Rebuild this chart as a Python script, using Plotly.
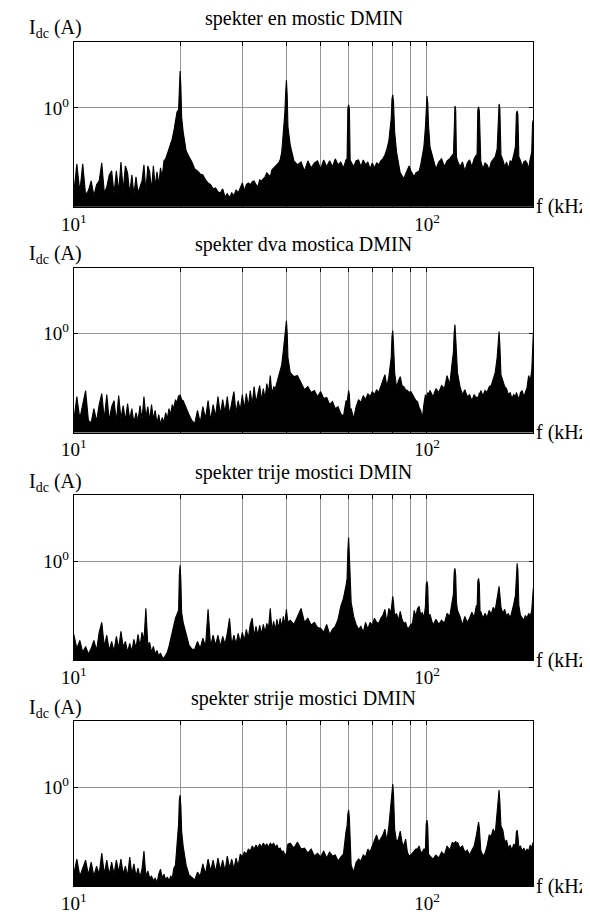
import plotly.graph_objects as go

# Frequency grid (kHz) shared by all four spectra (denser around the harmonics)
FREQ_KHZ = [
    10.0, 10.2, 10.4, 10.6, 10.8, 11.0, 11.2, 11.4, 11.6, 11.8,
    12.0, 12.2, 12.4, 12.6, 12.8, 13.0, 13.2, 13.4, 13.6, 13.8,
    14.0, 14.2, 14.4, 14.6, 14.8, 15.0, 15.2, 15.4, 15.6, 15.8,
    16.0, 16.2, 16.4, 16.6, 16.8, 17.0, 17.2, 17.4, 17.6, 17.8,
    18.0, 18.2, 18.4, 18.6, 18.8, 19.0, 19.2, 19.4, 19.6, 19.8, 19.9,
    20.0, 20.1, 20.2, 20.4, 20.8, 21.2, 21.6, 22.0, 22.4, 22.8, 23.2, 23.6,
    24.0, 24.4, 24.8, 25.2, 25.6, 26.0, 26.4, 26.8, 27.2, 27.6,
    28.0, 28.4, 28.8, 29.2, 29.6, 30.0, 30.4, 30.8, 31.2, 31.6,
    32.0, 32.4, 32.8, 33.2, 33.6, 34.0, 34.4, 34.8, 35.2, 35.6,
    36.0, 36.4, 36.8, 37.2, 37.6, 38.0, 38.4, 38.8, 39.2, 39.6, 39.8,
    40, 40.2, 40.4, 41, 42, 43, 44, 45, 46, 47, 48, 49,
    50, 51, 52, 53, 54, 55, 56, 57, 58, 59, 59.4, 59.7,
    60, 60.3, 60.6, 61, 62, 63, 64, 65, 66, 67, 68, 69,
    70, 71, 72, 73, 74, 75, 76, 77, 78, 79, 79.2, 79.6,
    80, 80.4, 80.8, 81, 82, 83, 84, 85, 86, 87, 88, 89,
    90, 91, 92, 93, 94, 95, 96, 97, 98, 99, 99.5,
    100, 100.5, 101, 102, 104, 106, 108, 110, 112, 114, 116, 118, 118.8, 119.4,
    120, 120.6, 121.2, 122, 124, 126, 128, 130, 132, 134, 136, 138, 138.6, 139.3,
    140, 140.7, 141.4, 142, 144, 146, 148, 150, 152, 154, 156, 158, 159.2,
    160, 160.8, 162, 164, 166, 168, 170, 172, 174, 176, 178, 179.1,
    180, 180.9, 182, 184, 186, 188, 190, 192, 194, 196, 198, 199, 200,
]

# I_dc amplitude (A) of each spectrum, row by row as the grid above
IDC_EN = [
    .093, .209, .096, .209, .088, .099, .130, .086, .117, .130,
    .215, .093, .110, .154, .172, .091, .172, .096, .221, .099,
    .198, .163, .091, .154, .088, .146, .093, .110, .130, .204,
    .096, .198, .168, .101, .198, .110, .168, .117, .187, .146,
    .228, .241, .277, .318, .356, .421, .526, .696, .895, .946, 2.07,
    2.81, 1.80, .778, .512, .301, .255, .221, .182, .172, .158, .154, .134,
    .123, .117, .104, .107, .096, .093, .104, .083, .091, .081,
    .093, .086, .101, .093, .110, .123, .099, .117, .123, .117,
    .127, .130, .117, .110, .134, .130, .138, .146, .163, .154,
    .146, .177, .187, .193, .204, .215, .234, .293, .512, .895, 1.56,
    2.185, 1.437, .589, .356, .228, .204, .221, .172, .228, .187, .215, .228,
    .182, .234, .193, .228, .193, .241, .204, .221, .187, .234, .241, .972,
    1.087, .972, .234, .221, .193, .228, .234, .193, .234, .204, .221, .182,
    .215, .187, .215, .204, .228, .241, .269, .318, .398, .677, .736, 1.285,
    1.437, 1.18, .589, .512, .293, .204, .163, .150, .138, .158, .177, .198,
    .172, .158, .146, .163, .168, .172, .204, .255, .337, .589, 1.18,
    1.398, 1.15, .622, .337, .255, .182, .221, .241, .193, .228, .241, .269, .255, .972,
    1.057, .946, .255, .228, .193, .221, .172, .215, .234, .193, .241, .269, .255, .946,
    1.028, .920, .241, .228, .182, .215, .204, .177, .221, .234, .255, .318, 1.028,
    1.118, 1.0, .269, .234, .193, .221, .182, .228, .221, .269, .337, .846,
    .920, .823, .255, .228, .193, .221, .228, .215, .182, .241, .293, .658, .716,
]

IDC_DVA = [
    .088, .172, .093, .146, .204, .088, .083, .123, .086, .138,
    .187, .091, .182, .088, .130, .154, .086, .177, .093, .134,
    .088, .142, .091, .123, .083, .110, .088, .134, .091, .172,
    .096, .130, .088, .138, .091, .117, .081, .104, .079, .096,
    .083, .110, .093, .123, .104, .138, .123, .158, .146, .177, .172,
    .182, .163, .158, .154, .123, .104, .088, .081, .117, .083, .130, .093,
    .154, .088, .138, .099, .172, .104, .158, .110, .172, .104,
    .146, .198, .110, .154, .117, .182, .123, .187, .130, .204,
    .138, .228, .146, .193, .234, .154, .215, .163, .248, .193,
    .310, .182, .228, .215, .255, .301, .356, .421, .622, .895, 1.18,
    1.437, 1.028, .512, .337, .301, .310, .248, .209, .228, .193, .204, .172,
    .198, .163, .168, .138, .150, .123, .130, .107, .099, .154, .146, .193,
    .204, .182, .117, .123, .093, .130, .158, .146, .177, .158, .187, .172,
    .198, .182, .209, .193, .234, .269, .318, .228, .301, .471, .512, .920,
    1.087, .736, .387, .337, .221, .269, .301, .234, .228, .209, .204, .193,
    .198, .182, .168, .154, .150, .127, .117, .093, .138, .182, .172,
    .172, .193, .182, .204, .172, .215, .193, .234, .215, .310, .241, .471, .589, 1.028,
    1.285, .895, .471, .337, .228, .182, .209, .172, .182, .154, .182, .163, .172, .158,
    .172, .193, .168, .204, .177, .204, .193, .228, .234, .293, .337, .512, .823,
    1.057, .736, .318, .269, .228, .215, .182, .193, .163, .182, .172, .193,
    .182, .168, .158, .193, .204, .172, .198, .221, .310, .269, .356, .589, 1.0,
]

IDC_TRIJE = [
    .130, .088, .110, .079, .093, .075, .088, .110, .083, .138,
    .182, .093, .127, .083, .107, .081, .123, .088, .142, .091,
    .107, .079, .101, .081, .113, .088, .130, .093, .138, .110,
    .269, .099, .104, .079, .093, .075, .083, .071, .077, .069,
    .067, .073, .079, .093, .117, .138, .168, .204, .228, .255, .677,
    .895, .589, .241, .182, .134, .096, .086, .086, .107, .088, .117, .093,
    .262, .093, .127, .096, .127, .093, .123, .099, .134, .204,
    .096, .127, .099, .134, .104, .138, .110, .150, .117, .172,
    .204, .123, .163, .127, .168, .130, .172, .138, .177, .154,
    .269, .146, .187, .146, .198, .154, .204, .158, .215, .163, .221,
    .262, .215, .182, .193, .172, .215, .269, .182, .204, .168, .182, .158,
    .154, .138, .172, .130, .150, .163, .198, .285, .356, .512, .622, 1.36,
    1.954, 1.18, .512, .318, .215, .172, .150, .163, .138, .182, .150, .182,
    .168, .204, .182, .177, .204, .221, .262, .182, .269, .241, .255, .337,
    .376, .318, .221, .215, .234, .193, .248, .198, .177, .182, .154, .158,
    .172, .177, .255, .215, .269, .285, .221, .241, .204, .285, .526,
    .572, .498, .215, .228, .168, .198, .172, .193, .177, .234, .215, .337, .398, .736,
    .823, .677, .318, .255, .215, .168, .215, .182, .204, .241, .209, .293, .255, .572,
    .622, .526, .228, .248, .204, .234, .209, .255, .228, .277, .255, .356, .471,
    .498, .398, .277, .234, .262, .215, .234, .204, .241, .301, .387, .870,
    .946, .778, .293, .221, .209, .193, .221, .204, .234, .215, .255, .421, .471,
]

IDC_STRIJE = [
    .088, .134, .083, .104, .130, .086, .123, .083, .110, .088,
    .158, .088, .130, .086, .123, .088, .130, .093, .134, .088,
    .110, .083, .142, .088, .117, .083, .104, .081, .101, .168,
    .083, .096, .079, .083, .073, .079, .069, .088, .101, .079,
    .088, .075, .081, .073, .083, .079, .104, .113, .221, .356, .696,
    .800, .589, .293, .193, .113, .086, .081, .075, .093, .083, .117, .088,
    .134, .096, .130, .093, .138, .099, .130, .096, .146, .104,
    .134, .101, .138, .110, .154, .142, .163, .154, .177, .168,
    .193, .177, .198, .182, .204, .187, .209, .193, .204, .187,
    .209, .198, .209, .187, .198, .177, .182, .163, .168, .150, .154,
    .146, .182, .204, .209, .182, .215, .177, .182, .158, .177, .146, .158,
    .142, .168, .138, .163, .146, .150, .127, .142, .154, .293, .337, .471,
    .526, .421, .168, .113, .093, .123, .134, .127, .150, .142, .177, .163,
    .193, .221, .262, .215, .234, .262, .310, .221, .337, .622, .696, .972,
    1.087, .823, .398, .310, .215, .234, .293, .215, .193, .234, .163, .146,
    .150, .158, .168, .177, .177, .193, .163, .163, .177, .177, .356,
    .398, .337, .154, .146, .134, .150, .138, .163, .150, .193, .172, .215, .193, .215,
    .193, .221, .198, .215, .182, .193, .163, .172, .150, .172, .193, .262, .293, .356,
    .376, .318, .193, .172, .146, .158, .193, .262, .255, .310, .269, .557, .823,
    .920, .677, .337, .301, .215, .228, .182, .198, .172, .204, .193, .285,
    .301, .255, .187, .193, .168, .182, .163, .177, .168, .198, .182, .204, .215,
]

TITLES = [
    "spekter en mostic DMIN",
    "spekter dva mostica DMIN",
    "spekter trije mostici DMIN",
    "spekter strije mostici DMIN",
]
SERIES = [IDC_EN, IDC_DVA, IDC_TRIJE, IDC_STRIJE]

X_GRID = [10, 20, 30, 40, 50, 60, 70, 80, 90, 100, 200]
X_TICKTEXT = ["10<sup>1</sup>", "", "", "", "", "", "", "", "", "10<sup>2</sup>", ""]
Y_TICKS = [1]
Y_TICKTEXT = ["10<sup>0</sup>"]

for s in SERIES:
    assert len(s) == len(FREQ_KHZ), len(s)

# the page body has an 8 px margin, so the figure is laid out 8 px smaller
OFF = 8
W, H = 590 - OFF, 914 - OFF
LEFT, RIGHT = 62 - OFF, 532 - OFF
TOPS = [42 - OFF, 268 - OFF, 496 - OFF, 722 - OFF]
PH = 165
FONT = "Liberation Serif, Times New Roman, serif"

fig = go.Figure()
annotations = []
for i, (title, ys) in enumerate(zip(TITLES, SERIES)):
    n = "" if i == 0 else str(i + 1)
    top = TOPS[i]
    bot = top + PH
    fig.add_trace(go.Scatter(
        x=FREQ_KHZ, y=ys, mode="lines",
        line=dict(color="black", width=1.1),
        fill="tozeroy", fillcolor="black",
        xaxis="x" + n, yaxis="y" + n, showlegend=False,
        hoverinfo="skip",
    ))
    xa = dict(
        type="log", range=[1, 2.30103], domain=[LEFT / W, RIGHT / W],
        anchor="y" + n,
        tickvals=X_GRID, ticktext=X_TICKTEXT,
        showgrid=True, gridcolor="#959595", gridwidth=1,
        ticks="inside", ticklen=4, tickcolor="black",
        showline=True, linecolor="black", linewidth=1, mirror="ticks",
        tickfont=dict(family=FONT, size=19, color="black"),
        zeroline=False,
    )
    ya = dict(
        type="log", range=[-1.2, 0.8],
        domain=[1 - bot / H, 1 - top / H],
        anchor="x" + n,
        tickvals=Y_TICKS, ticktext=Y_TICKTEXT,
        showgrid=True, gridcolor="#959595", gridwidth=1,
        ticks="inside", ticklen=4, tickcolor="black",
        showline=True, linecolor="black", linewidth=1, mirror="ticks",
        tickfont=dict(family=FONT, size=19, color="black"),
        zeroline=False,
    )
    fig.update_layout({"xaxis" + n: xa, "yaxis" + n: ya})
    annotations.append(dict(
        text=title, xref="paper", yref="paper",
        x=(297 - OFF) / W, y=1 - (top - 23) / H, xanchor="center", yanchor="middle",
        showarrow=False, font=dict(family=FONT, size=20, color="black"),
    ))
    annotations.append(dict(
        text="I<sub>dc</sub> (A)", xref="paper", yref="paper",
        x=(14 - OFF) / W, y=1 - (top - 13) / H, xanchor="left", yanchor="middle",
        showarrow=False, font=dict(family=FONT, size=20, color="black"),
    ))
    annotations.append(dict(
        text="f (kHz)", xref="paper", yref="paper",
        x=(533 - OFF) / W, y=1 - bot / H, xanchor="left", yanchor="middle",
        showarrow=False, font=dict(family=FONT, size=20, color="black"),
    ))

fig.update_layout(
    width=W, height=H,
    margin=dict(l=0, r=0, t=0, b=0),
    paper_bgcolor="white", plot_bgcolor="white",
    annotations=annotations,
    showlegend=False,
)

fig.write_html("out.html")
